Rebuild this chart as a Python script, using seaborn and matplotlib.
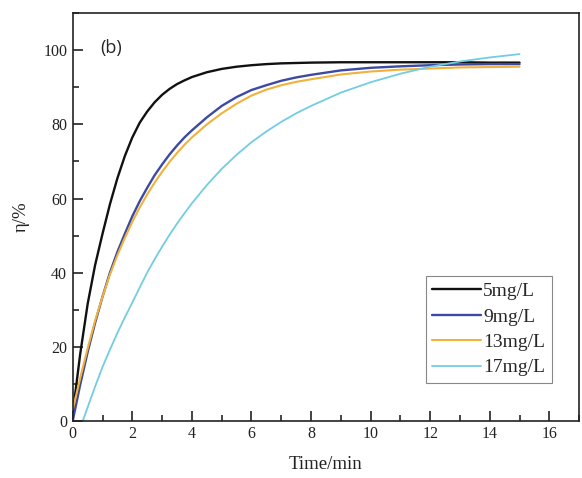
import numpy as np
import pandas as pd
import matplotlib
matplotlib.use("Agg")
import matplotlib.pyplot as plt
from matplotlib.ticker import MultipleLocator
import seaborn as sns

# values
time_a = [0, 0.25, 0.5, 0.75, 1.0, 1.25, 1.5, 1.75, 2.0, 2.25, 2.5, 2.75, 3.0,
          3.25, 3.5, 3.75, 4.0, 4.5, 5.0, 5.5, 6.0, 6.5, 7.0, 7.5, 8.0,
          9, 10, 11, 12, 13, 14, 15]
eta_5 = [2, 18, 31.5, 42, 50.5, 58.5, 65.5, 71.5, 76.5, 80.5, 83.5, 86, 88,
         89.6, 90.9, 91.9, 92.8, 94.1, 95.0, 95.6, 96.0, 96.3, 96.5, 96.6, 96.7,
         96.8, 96.8, 96.8, 96.8, 96.8, 96.7, 96.7]
eta_9 = [0, 9.7, 18.5, 26.4, 33.5, 40, 45.6, 50.5, 55.2, 59.3, 62.9, 66.3, 69.2,
         71.9, 74.3, 76.5, 78.4, 81.9, 85, 87.4, 89.3, 90.6, 91.8, 92.7, 93.4,
         94.6, 95.3, 95.7, 96.0, 96.2, 96.3, 96.3]
eta_13 = [3, 11.5, 19.5, 27, 33.5, 39.5, 44.7, 49.4, 53.7, 57.6, 61.1, 64.3, 67.2,
          69.9, 72.3, 74.5, 76.5, 80, 83, 85.6, 87.8, 89.4, 90.6, 91.5, 92.2,
          93.5, 94.3, 94.8, 95.1, 95.4, 95.5, 95.6]
time_b = [0.34, 0.5, 0.75, 1.0, 1.25, 1.5, 1.75, 2.0, 2.25, 2.5, 2.75, 3.0,
          3.25, 3.5, 3.75, 4.0, 4.5, 5.0, 5.5, 6.0, 6.5, 7.0, 7.5, 8.0,
          9, 10, 11, 12, 13, 14, 15]
eta_17 = [0, 3.6, 9.2, 14.5, 19.2, 23.7, 27.9, 31.9, 36, 40, 43.6, 47,
          50.2, 53.2, 56, 58.7, 63.6, 68, 71.8, 75.2, 78.1, 80.7, 83, 85,
          88.6, 91.4, 93.7, 95.6, 97, 98.1, 99]

labels = ["5mg/L", "9mg/L", "13mg/L", "17mg/L"]
colors = ["#111111", "#3c4aa2", "#f0b23a", "#72cde0"]
widths = [1.7, 1.7, 1.5, 1.3]

frames = []
for lab, t, y in zip(labels, [time_a, time_a, time_a, time_b],
                     [eta_5, eta_9, eta_13, eta_17]):
    frames.append(pd.DataFrame({"time": t, "eta": y, "conc": lab}))
df = pd.concat(frames, ignore_index=True)

sns.set_theme(style="ticks")
plt.rcParams["font.family"] = ["Liberation Serif", "DejaVu Serif"]

fig = plt.figure(figsize=(5.82, 4.78), dpi=100)
ax = fig.add_axes([0.125, 0.12, 0.870, 0.852])

sns.lineplot(data=df, x="time", y="eta", hue="conc", hue_order=labels,
             palette=colors, sort=False, estimator=None, ax=ax, legend=False)
for line, lw in zip(ax.get_lines(), widths):
    line.set_linewidth(lw)
    line.set_solid_joinstyle("round")

ax.set_xlim(0, 17)
ax.set_ylim(0, 110)
ax.xaxis.set_major_locator(MultipleLocator(2))
ax.xaxis.set_minor_locator(MultipleLocator(1))
ax.yaxis.set_minor_locator(MultipleLocator(10))
ax.set_yticks([0, 20, 40, 60, 80, 100])
ax.tick_params(which="major", direction="in", length=7, width=1.2,
               labelsize=11.5, colors="#222222", pad=4)
ax.tick_params(which="minor", direction="in", length=4, width=1.2)
ax.tick_params(top=False, right=False, which="both")
for sp in ax.spines.values():
    sp.set_linewidth(1.2)
    sp.set_color("#222222")

ax.set_xlabel("Time/min", fontsize=13.5, color="#222222", labelpad=10)
ax.set_ylabel("η/%", fontsize=13.5, color="#222222", labelpad=10)

ax.text(0.054, 0.915, "(b)", transform=ax.transAxes, fontsize=13,
        family=["Open Sans", "DejaVu Sans"], va="center", ha="left")

handles = [plt.Line2D([], [], color=c, lw=lw) for c, lw in zip(colors, widths)]
leg = ax.legend(handles, labels, loc="lower right", bbox_to_anchor=(0.946, 0.092),
                borderaxespad=0, fontsize=14, handlelength=2.5, handletextpad=0.1,
                labelspacing=0.4, borderpad=0.35, fancybox=False, framealpha=1)
leg.get_frame().set_edgecolor("#888888")
leg.get_frame().set_linewidth(0.8)

fig.savefig("out.png", dpi=100)
